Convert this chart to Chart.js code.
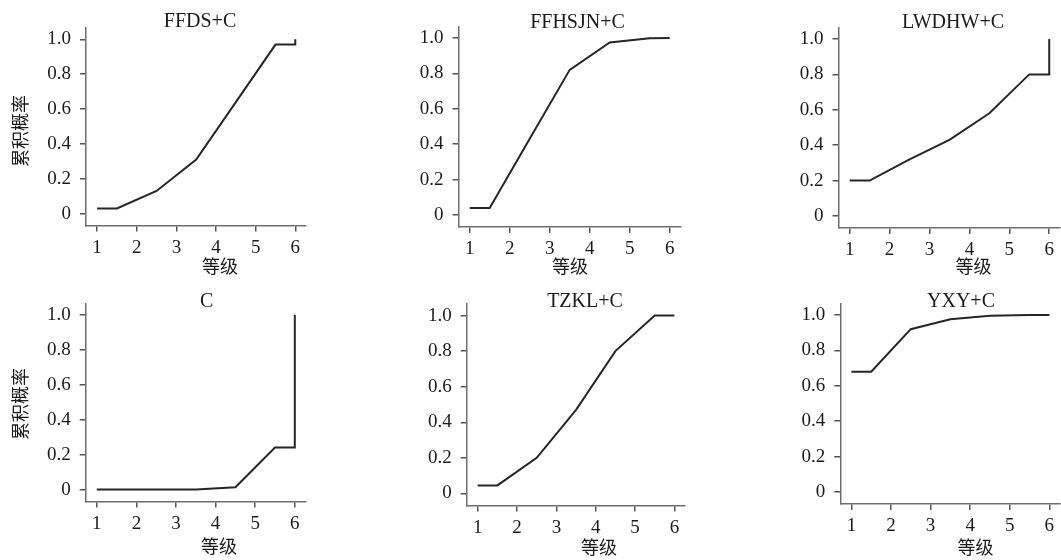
<!DOCTYPE html>
<html>
<head>
<meta charset="utf-8">
<script src="https://cdn.jsdelivr.net/npm/chart.js@4/dist/chart.umd.min.js"></script>
<style>
  html, body { margin: 0; padding: 0; background: #fff; }
  #wrap { position: relative; width: 1061px; height: 560px; background: #fff; overflow: hidden; }
  .cell { position: absolute; }
</style>
</head>
<body>
<div id="wrap"></div>
<script>
// ---- data ----
const xGrades = [1, 1.5, 2.5, 3.5, 4.5, 5.5, 6, 6];
const ffdsC   = [0.03, 0.03, 0.13, 0.31, 0.64, 0.97, 0.97, 1.0];
const ffhsjnC = [0.04, 0.04, 0.43, 0.82, 0.975, 0.998, 1.0, 1.0];
const lwdhwC  = [0.20, 0.20, 0.32, 0.43, 0.58, 0.80, 0.80, 1.0];
const cOnly   = [0, 0, 0, 0.001, 0.013, 0.24, 0.24, 1.0];
const tzklC   = [0.045, 0.045, 0.20, 0.47, 0.80, 1.0, 1.0, 1.0];
const yxyC    = [0.68, 0.68, 0.92, 0.976, 0.996, 1.0, 1.0, 1.0];

const panelTitles = ['FFDS+C', 'FFHSJN+C', 'LWDHW+C', 'C', 'TZKL+C', 'YXY+C'];
const panelSeries = [ffdsC, ffhsjnC, lwdhwC, cOnly, tzklC, yxyC];
const xTickValues = [1, 2, 3, 4, 5, 6];
const xTickLabels = ['1', '2', '3', '4', '5', '6'];
const yTickValues = [0, 0.2, 0.4, 0.6, 0.8, 1.0];
const yTickLabels = ['0', '0.2', '0.4', '0.6', '0.8', '1.0'];
const xAxisTitle = '等级';
const yAxisTitle = '累积概率';

// ---- layout (page pixels) ----
const cells = [
  {c:[0,0,360,280],     p:[86,28,306,225.5],     t:[200,27],    xt:[220,266],  yt:[20,131]},
  {c:[360,0,360,280],   p:[458.5,26.5,680.5,227], t:[577.5,27.5], xt:[570,266],  yt:null},
  {c:[720,0,341,280],   p:[838.5,27.5,1060,228],  t:[953,27.5],  xt:[973.5,266], yt:null},
  {c:[0,280,360,280],   p:[85.7,303.3,305.5,501.5], t:[206.7,306.7], xt:[219,546], yt:[20,404]},
  {c:[360,280,360,280], p:[466.7,304,685,505.5],  t:[585,306.7], xt:[599,547],  yt:null},
  {c:[720,280,341,280], p:[840.3,303.5,1060,504], t:[961,307],   xt:[975.5,547], yt:null}
];

const SERIF = "'Liberation Serif', 'Times New Roman', serif";
const CJK = "'Noto Sans CJK SC', 'Noto Sans CJK JP', sans-serif";
Chart.defaults.font.family = SERIF;
Chart.defaults.color = '#1a1a1a';

const panelText = {
  id: 'panelText',
  afterDraw(chart, args, o) {
    const ctx = chart.ctx;
    ctx.save();
    ctx.fillStyle = '#1a1a1a';
    ctx.textAlign = 'center';
    ctx.textBaseline = 'alphabetic';
    ctx.font = '20px ' + SERIF;
    ctx.fillText(o.title, o.t[0] - o.ox, o.t[1] - o.oy);
    ctx.textBaseline = 'middle';
    ctx.font = '18px ' + CJK;
    ctx.fillText(o.xTitle, o.xt[0] - o.ox, o.xt[1] - o.oy);
    if (o.yt) {
      ctx.translate(o.yt[0] - o.ox, o.yt[1] - o.oy);
      ctx.rotate(-Math.PI / 2);
      ctx.fillText(o.yTitle, 0, 0);
    }
    ctx.restore();
  }
};

const wrap = document.getElementById('wrap');
const XH = 50;

cells.forEach((cell, i) => {
  const [cx, cy, cw, ch] = cell.c;
  const [L, T, R, B] = cell.p;
  const div = document.createElement('div');
  div.className = 'cell';
  div.style.left = cx + 'px';
  div.style.top = cy + 'px';
  div.style.width = cw + 'px';
  div.style.height = ch + 'px';
  const cv = document.createElement('canvas');
  div.appendChild(cv);
  wrap.appendChild(div);

  const yW = L - cx;
  const padTop = T - cy;
  const padRight = (cx + cw) - R;
  const padBottom = (cy + ch) - B - XH;

  const pts = xGrades.map((x, k) => ({x: x, y: panelSeries[i][k]}));

  new Chart(cv, {
    type: 'line',
    data: {
      datasets: [{
        data: pts,
        borderColor: '#262626',
        borderWidth: 2,
        pointRadius: 0,
        tension: 0,
        fill: false
      }]
    },
    options: {
      responsive: true,
      maintainAspectRatio: false,
      animation: false,
      events: [],
      layout: { padding: { left: 0, top: padTop, right: padRight, bottom: padBottom } },
      plugins: {
        legend: { display: false },
        title: { display: false },
        tooltip: { enabled: false },
        panelText: {
          title: panelTitles[i], xTitle: xAxisTitle, yTitle: yAxisTitle,
          t: cell.t, xt: cell.xt, yt: cell.yt, ox: cx, oy: cy
        }
      },
      scales: {
        x: {
          type: 'linear',
          min: 0.72, max: 6.27,
          afterBuildTicks: s => { s.ticks = xTickValues.map(v => ({value: v})); },
          afterFit: s => { s.height = XH; },
          ticks: {
            autoSkip: false, maxRotation: 0,
            padding: 5,
            font: { size: 19, family: SERIF },
            color: '#1a1a1a',
            callback: (v) => xTickLabels[xTickValues.indexOf(v)]
          },
          grid: { display: true, drawOnChartArea: false, drawTicks: true, tickLength: 6, color: '#555', lineWidth: 1.5 },
          border: { display: true, color: '#6e6e6e', width: 1.5 }
        },
        y: {
          type: 'linear',
          min: -0.068, max: 1.065,
          afterBuildTicks: s => { s.ticks = yTickValues.map(v => ({value: v})); },
          afterFit: s => { s.width = yW; },
          ticks: {
            autoSkip: false,
            padding: 9,
            font: { size: 19, family: SERIF },
            color: '#1a1a1a',
            callback: (v) => yTickLabels[yTickValues.findIndex(t => Math.abs(t - v) < 1e-9)]
          },
          grid: { display: true, drawOnChartArea: false, drawTicks: true, tickLength: 6, color: '#555', lineWidth: 1.5 },
          border: { display: true, color: '#6e6e6e', width: 1.5 }
        }
      }
    },
    plugins: [panelText]
  });
});
</script>
</body>
</html>
